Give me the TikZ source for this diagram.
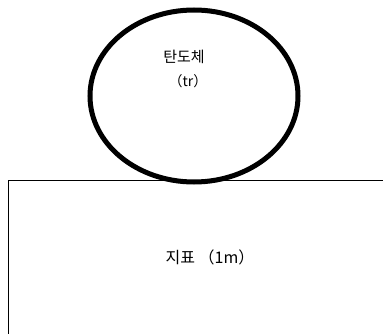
\documentclass[tikz,border=0pt]{standalone}
\usepackage{fontspec}
\newfontfamily\kr{Noto Sans CJK KR}
\begin{document}
\begin{tikzpicture}[x=1pt,y=-1pt]
\useasboundingbox (0,0) rectangle (383,334);
\draw[line width=5pt] (194,96) ellipse (104 and 86);
\draw[line width=0.6pt] (383,180) -- (8,180) -- (8,334);
\node[font=\kr\fontsize{15}{17}\selectfont] (body) at (184,57) {탄도체};
\node[font=\kr\fontsize{14}{16}\selectfont] (bodyunit) at (188,81) {（tr）};
\node[font=\kr\fontsize{16}{18}\selectfont] (ground) at (210,257) {지표 （1m）};
\end{tikzpicture}
\end{document}
